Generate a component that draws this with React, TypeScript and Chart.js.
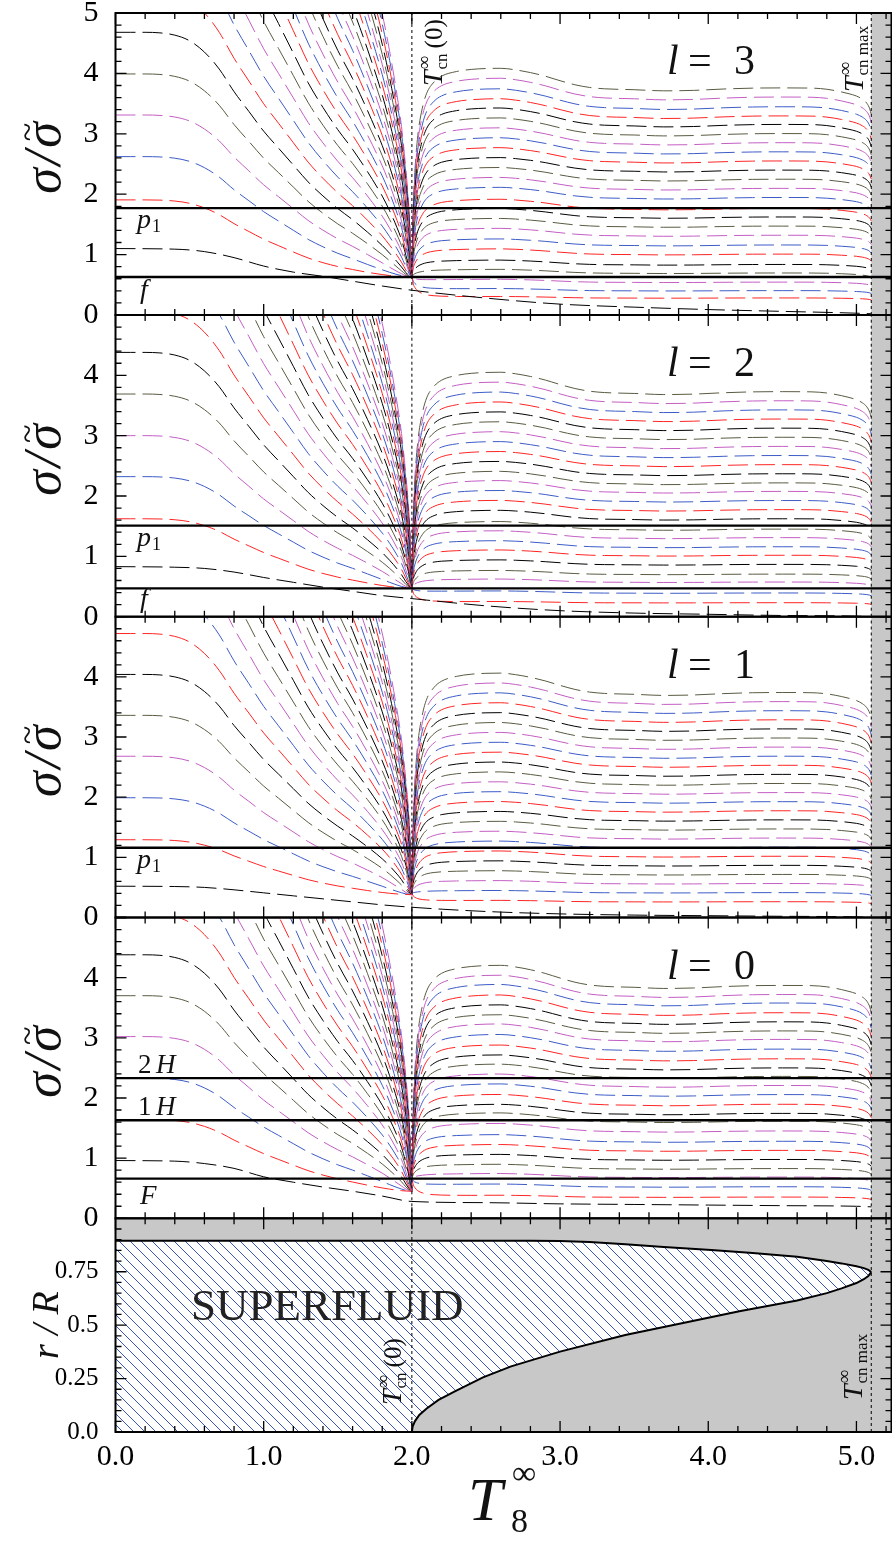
import React, { useEffect, useRef } from 'react';
import { Chart, registerables } from 'chart.js';

Chart.register(...registerables);

const SERIF = '"Liberation Serif", "Times New Roman", serif';
const GRAY = '#c8c8c8';
const COLORS = ['#000000', '#ff2424', '#3c5cc6', '#c35ec3', '#5a5a42'];

// ---- x axis ----
const X_MAX = 5.24;
const T_CN0 = 2.0;
const T_CNMAX = 5.1;

// ---- panel labels ----
const PANEL_ELL = ['3', '2', '1', '0'];

// ---- superfluid branch (T < Tcn(0)): sample temperatures and shape ----
const LEFT_T = [0, 0.1, 0.2, 0.3, 0.4, 0.5, 0.6, 0.7, 0.8, 0.9, 1.0, 1.1, 1.2, 1.3, 1.4, 1.5, 1.6, 1.7, 1.8, 1.85, 1.9, 1.93, 1.96, 1.98, 1.99, 2.0];
const LEFT_SHAPE = [1, 1, 1, 0.998, 0.99, 0.97, 0.93, 0.87, 0.79, 0.72, 0.65, 0.59, 0.53, 0.47, 0.42, 0.375, 0.335, 0.29, 0.24, 0.21, 0.175, 0.15, 0.115, 0.085, 0.06, 0];

// ---- normal branch (T > Tcn(0)) ----
const RIGHT_T = [2.0, 2.01, 2.02, 2.04, 2.07, 2.1, 2.15, 2.2, 2.3, 2.4, 2.5, 2.6, 2.7, 2.8, 2.9, 3.0, 3.1, 3.2, 3.3, 3.5, 3.7, 3.9, 4.1, 4.3, 4.5, 4.7, 4.8, 4.9, 4.95, 5.0, 5.04, 5.07, 5.09, 5.1];
const RIGHT_RISE = [0, 0.36, 0.52, 0.7, 0.83, 0.9, 0.95, 0.975, 0.993, 1, 1, 1, 1, 1, 1, 1, 1, 1, 1, 1, 1, 1, 1, 1, 1, 1, 1, 1, 1, 1, 1, 1, 1, 1];
const RIGHT_BUMP = [1.06, 1.06, 1.062, 1.065, 1.07, 1.075, 1.08, 1.083, 1.087, 1.09, 1.094, 1.095, 1.088, 1.076, 1.06, 1.04, 1.022, 1.01, 1.004, 1.0, 0.995, 0.997, 1.003, 1.007, 1.008, 1.007, 1.002, 0.99, 0.982, 0.972, 0.958, 0.94, 0.915, 0.89];

// ---- lowest (f-like) mode, all temperatures ----
const FMODE_T = [0, 0.4, 0.6, 0.8, 1.0, 1.2, 1.4, 1.6, 1.8, 2.0, 2.5, 3.0, 3.5, 4.0, 4.5, 5.0, 5.1];

// l = 3
const LEFT_L3 = [1.90, 2.62, 3.31, 3.99, 4.68, 5.38, 6.08, 6.78, 7.48, 8.18, 8.88, 9.58, 10.28, 10.98, 11.68, 12.38, 13.08, 13.78, 14.48, 15.18, 15.88, 16.58, 17.28, 17.98, 18.68, 19.38, 20.08, 20.78];
const RIGHT_L3 = [0.28, 0.40, 0.54, 0.69, 0.83, 1.00, 1.15, 1.31, 1.46, 1.61, 1.75, 1.93, 2.08, 2.23, 2.38, 2.53, 2.68, 2.83, 2.98, 3.13, 3.27, 3.42, 3.58, 3.73];
const FMODE_L3 = [1.10, 1.09, 1.05, 0.95, 0.81, 0.71, 0.64, 0.56, 0.48, 0.41, 0.28, 0.18, 0.13, 0.09, 0.06, 0.03, 0.02];
const MODES_L3 = [1.77, 0.63];
// l = 2
const LEFT_L2 = [1.62, 2.32, 3.00, 3.69, 4.38, 5.07, 5.76, 6.45, 7.14, 7.83, 8.52, 9.21, 9.90, 10.59, 11.28, 11.97, 12.66, 13.35, 14.04, 14.73, 15.42, 16.11, 16.80, 17.49, 18.18, 18.87, 19.56, 20.25];
const RIGHT_L2 = [0.23, 0.39, 0.57, 0.70, 0.86, 1.01, 1.15, 1.30, 1.44, 1.61, 1.76, 1.91, 2.06, 2.20, 2.35, 2.50, 2.65, 2.80, 2.95, 3.10, 3.25, 3.40, 3.55, 3.70];
const FMODE_L2 = [0.83, 0.82, 0.80, 0.74, 0.65, 0.57, 0.49, 0.42, 0.35, 0.30, 0.18, 0.10, 0.06, 0.04, 0.02, 0.01, 0.00];
const MODES_L2 = [1.51, 0.47];
// l = 1
const LEFT_L1 = [1.29, 1.99, 2.68, 3.36, 4.04, 4.72, 5.40, 6.08, 6.76, 7.44, 8.12, 8.80, 9.48, 10.16, 10.84, 11.52, 12.20, 12.88, 13.56, 14.24, 14.92, 15.60, 16.28, 16.96, 17.64, 18.32, 19.00, 19.68];
const RIGHT_L1 = [0.26, 0.41, 0.56, 0.71, 0.86, 1.01, 1.16, 1.31, 1.46, 1.61, 1.76, 1.91, 2.06, 2.21, 2.36, 2.51, 2.66, 2.81, 2.96, 3.11, 3.26, 3.41, 3.56, 3.71];
const FMODE_L1 = [0.52, 0.515, 0.50, 0.46, 0.41, 0.36, 0.31, 0.26, 0.21, 0.17, 0.10, 0.06, 0.04, 0.03, 0.02, 0.01, 0.00];
const MODES_L1 = [1.16];
// l = 0
const LEFT_L0 = [1.64, 2.33, 3.02, 3.70, 4.38, 5.07, 5.76, 6.45, 7.14, 7.83, 8.52, 9.21, 9.90, 10.59, 11.28, 11.97, 12.66, 13.35, 14.04, 14.73, 15.42, 16.11, 16.80, 17.49, 18.18, 18.87, 19.56, 20.25];
const RIGHT_L0 = [0.35, 0.52, 0.68, 0.82, 0.97, 1.12, 1.27, 1.44, 1.60, 1.73, 1.88, 2.04, 2.19, 2.34, 2.48, 2.63, 2.79, 2.95, 3.09, 3.24, 3.39, 3.55, 3.69, 3.84];
const FMODE_L0 = [0.96, 0.95, 0.91, 0.83, 0.69, 0.60, 0.52, 0.45, 0.37, 0.28, 0.26, 0.24, 0.23, 0.22, 0.21, 0.20, 0.19];
const MODES_L0 = [2.33, 1.63, 0.66];

// convergence values at Tcn(0) (left branch, right branch)
const CONV_LEFT = [0.63, 0.47, 0.38, 0.45];
const CONV_RIGHT = [0.63, 0.47, 0.40, 0.66];

// ---- superfluid region boundary (bottom panel) ----
const SF_UPPER_T = [0, 1.0, 2.0, 2.8, 3.0, 3.2, 3.44, 3.7, 4.02, 4.3, 4.6, 4.8, 4.9, 5.0, 5.05, 5.08, 5.1];
const SF_UPPER_R = [0.895, 0.895, 0.895, 0.895, 0.894, 0.889, 0.878, 0.866, 0.852, 0.838, 0.82, 0.80, 0.789, 0.776, 0.767, 0.759, 0.748];
const SF_LOWER_T = [2.0, 2.005, 2.02, 2.05, 2.1, 2.18, 2.29, 2.48, 2.67, 3.0, 3.44, 3.83, 4.21, 4.6, 4.8, 4.9, 5.0, 5.05, 5.08, 5.1];
const SF_LOWER_R = [0, 0.025, 0.05, 0.08, 0.11, 0.15, 0.19, 0.256, 0.307, 0.376, 0.454, 0.51, 0.565, 0.615, 0.65, 0.672, 0.697, 0.715, 0.73, 0.748];

const SIGMA_AXES = ['y1', 'y2', 'y3', 'y4'];
const PANEL_DATA = [
  { left: LEFT_L3, right: RIGHT_L3, fmode: FMODE_L3, modes: MODES_L3 },
  { left: LEFT_L2, right: RIGHT_L2, fmode: FMODE_L2, modes: MODES_L2 },
  { left: LEFT_L1, right: RIGHT_L1, fmode: FMODE_L1, modes: MODES_L1 },
  { left: LEFT_L0, right: RIGHT_L0, fmode: FMODE_L0, modes: MODES_L0 },
];

function dashed(data: any[], color: string, axis: string, phase: number) {
  return {
    type: 'line', data, yAxisID: axis, xAxisID: 'x', borderColor: color, borderWidth: 1,
    borderDash: [20, 7], borderDashOffset: phase, pointRadius: 0, fill: false, cubicInterpolationMode: 'monotone', order: 3,
  };
}

function buildDatasets() {
  const ds: any[] = [];
  PANEL_DATA.forEach((p, pi) => {
    const axis = SIGMA_AXES[pi];
    const cl = CONV_LEFT[pi];
    const cr = CONV_RIGHT[pi];
    ds.push(dashed(FMODE_T.map((t, i) => ({ x: t, y: p.fmode[i] })), COLORS[0], axis, 0));
    p.left.forEach((L, k) => {
      const data = LEFT_T.map((t, i) => ({ x: t, y: Math.pow(Math.pow(cl, 4) + Math.pow(L * LEFT_SHAPE[i], 4), 0.25) }));
      ds.push(dashed(data, COLORS[(k + 1) % 5], axis, 0));
    });
    p.right.forEach((R, k) => {
      const data = RIGHT_T.map((t, i) => ({ x: t, y: cr + (R * RIGHT_BUMP[i] - cr) * RIGHT_RISE[i] }));
      ds.push(dashed(data, COLORS[(k + 1) % 5], axis, (k * 11) % 27));
    });
    p.modes.forEach((v) => {
      ds.push({ type: 'line', data: [{ x: 0, y: v }, { x: X_MAX, y: v }], yAxisID: axis, xAxisID: 'x', borderColor: '#000', borderWidth: 2.4, pointRadius: 0, fill: false, order: 0 });
    });
    [T_CN0, T_CNMAX].forEach((t) => {
      ds.push({ type: 'line', data: [{ x: t, y: 0 }, { x: t, y: 5 }], yAxisID: axis, xAxisID: 'x', borderColor: '#000', borderWidth: 1, borderDash: [3, 3], pointRadius: 0, fill: false, order: 1 });
    });
  });
  ds.push({ type: 'line', data: SF_UPPER_T.map((t, i) => ({ x: t, y: SF_UPPER_R[i] })), yAxisID: 'y5', xAxisID: 'x', borderColor: '#000', borderWidth: 2, pointRadius: 0, fill: false, order: 0 });
  ds.push({ type: 'line', data: SF_LOWER_T.map((t, i) => ({ x: t, y: SF_LOWER_R[i] })), yAxisID: 'y5', xAxisID: 'x', borderColor: '#000', borderWidth: 2, pointRadius: 0, fill: false, order: 0 });
  [T_CN0, T_CNMAX].forEach((t) => {
    ds.push({ type: 'line', data: [{ x: t, y: 0 }, { x: t, y: 1 }], yAxisID: 'y5', xAxisID: 'x', borderColor: '#000', borderWidth: 1, borderDash: [3, 3], pointRadius: 0, fill: false, order: 1 });
  });
  return ds;
}

function hatch(ctx: CanvasRenderingContext2D) {
  const s = 11;
  const pc = document.createElement('canvas');
  pc.width = s; pc.height = s;
  const g = pc.getContext('2d')!;
  g.fillStyle = '#ffffff';
  g.fillRect(0, 0, s, s);
  g.strokeStyle = '#3a56b8';
  g.lineWidth = 1;
  g.beginPath();
  for (const o of [-s, 0, s]) { g.moveTo(o, 0); g.lineTo(o + s, s); }
  g.stroke();
  return ctx.createPattern(pc, 'repeat')!;
}

function drawTcn(ctx: CanvasRenderingContext2D, x: number, y: number, sub: string, tail: string) {
  ctx.save();
  ctx.translate(x, y);
  ctx.rotate(-Math.PI / 2);
  ctx.textAlign = 'left';
  ctx.textBaseline = 'alphabetic';
  ctx.fillStyle = '#111';
  ctx.font = `italic 28px ${SERIF}`;
  ctx.fillText('T', 0, 0);
  const wT = ctx.measureText('T').width;
  ctx.font = `19px ${SERIF}`;
  ctx.fillText('∞', wT + 1, -12);
  const wI = ctx.measureText('∞').width;
  ctx.font = `17px ${SERIF}`;
  ctx.fillText(sub, wT + 1, 5);
  const wS = ctx.measureText(sub).width;
  if (tail) {
    ctx.font = `25px ${SERIF}`;
    ctx.fillText(tail, wT + 1 + Math.max(wI, wS) + 5, 0);
  }
  ctx.restore();
}

function sigmaTitle(ctx: CanvasRenderingContext2D, x: number, cy: number) {
  ctx.save();
  ctx.translate(x, cy);
  ctx.rotate(-Math.PI / 2);
  ctx.fillStyle = '#111';
  ctx.textBaseline = 'alphabetic';
  ctx.font = `italic 52px ${SERIF}`;
  const ws = ctx.measureText('σ').width;
  const wsl = ctx.measureText('/').width;
  const gap = 3;
  const total = ws * 2 + wsl + gap * 2;
  let px = -total / 2;
  ctx.textAlign = 'left';
  ctx.fillText('σ', px, 0);
  px += ws + gap;
  ctx.fillText('/', px, 0);
  px += wsl + gap;
  ctx.fillText('σ', px, 0);
  ctx.font = `34px ${SERIF}`;
  ctx.textAlign = 'center';
  ctx.fillText('~', px + ws / 2 + 3, -22);
  ctx.restore();
}

const panelPlugin = {
  id: 'panels',
  beforeDatasetsDraw(chart: any) {
    const { ctx, chartArea } = chart;
    const xs = chart.scales.x;
    const xg = xs.getPixelForValue(T_CNMAX);
    ctx.save();
    ctx.fillStyle = GRAY;
    for (const id of SIGMA_AXES) {
      const ys = chart.scales[id];
      ctx.fillRect(xg, ys.top, chartArea.right - xg, ys.bottom - ys.top);
    }
    const yr = chart.scales.y5;
    ctx.fillRect(chartArea.left, yr.top, chartArea.right - chartArea.left, yr.bottom - yr.top);
    ctx.beginPath();
    ctx.moveTo(xs.getPixelForValue(0), yr.getPixelForValue(0));
    SF_UPPER_T.forEach((t, i) => ctx.lineTo(xs.getPixelForValue(t), yr.getPixelForValue(SF_UPPER_R[i])));
    for (let i = SF_LOWER_T.length - 1; i >= 0; i--) ctx.lineTo(xs.getPixelForValue(SF_LOWER_T[i]), yr.getPixelForValue(SF_LOWER_R[i]));
    ctx.closePath();
    ctx.fillStyle = hatch(ctx);
    ctx.fill();
    ctx.restore();
  },
  beforeDatasetDraw(chart: any, args: any) {
    const { ctx, chartArea } = chart;
    const ys = args.meta.yScale;
    ctx.save();
    ctx.beginPath();
    ctx.rect(chartArea.left, ys.top, chartArea.right - chartArea.left, ys.bottom - ys.top);
    ctx.clip();
  },
  afterDatasetDraw(chart: any) {
    chart.ctx.restore();
  },
  afterDatasetsDraw(chart: any) {
    const { ctx, chartArea } = chart;
    const xs = chart.scales.x;
    const L = chartArea.left;
    const R = chartArea.right - 0.5;
    ctx.save();
    ctx.strokeStyle = '#000';
    for (const id of [...SIGMA_AXES, 'y5']) {
      const ys = chart.scales[id];
      const top = ys.top, bot = ys.bottom;
      ctx.lineWidth = 1.3;
      ctx.beginPath();
      for (let k = 0; k <= 26; k++) {
        const t = k * 0.2;
        if (t > X_MAX) break;
        const px = xs.getPixelForValue(t);
        const len = k % 5 === 0 ? 11 : 6;
        ctx.moveTo(px, top); ctx.lineTo(px, top + len);
        ctx.moveTo(px, bot); ctx.lineTo(px, bot - len);
      }
      const step = id === 'y5' ? 0.05 : 0.2;
      const n = Math.round(ys.max / step);
      for (let k = 0; k <= n; k++) {
        const py = ys.getPixelForValue(k * step);
        const len = k % 5 === 0 ? 11 : 6;
        ctx.moveTo(L, py); ctx.lineTo(L + len, py);
        ctx.moveTo(R, py); ctx.lineTo(R - len, py);
      }
      ctx.stroke();
      ctx.lineWidth = 2;
      ctx.strokeRect(L, top, R - L, bot - top);
    }
    ctx.restore();
  },
  afterDraw(chart: any) {
    const { ctx } = chart;
    ctx.save();
    ctx.fillStyle = '#111';
    ctx.textAlign = 'left';
    ctx.textBaseline = 'alphabetic';
    SIGMA_AXES.forEach((id, i) => {
      const ys = chart.scales[id];
      const base = ys.top + 61;
      ctx.font = `italic 42px ${SERIF}`;
      ctx.fillText('l', 667, base);
      ctx.font = `42px ${SERIF}`;
      ctx.fillText('=', 688, base);
      ctx.fillText(PANEL_ELL[i], 734, base);
      sigmaTitle(ctx, 60, (ys.top + ys.bottom) / 2 - 6);
    });
    const y1 = chart.scales.y1, y2 = chart.scales.y2, y3 = chart.scales.y3, y4 = chart.scales.y4;
    const p1 = (ys: any, v: number) => {
      const b = ys.getPixelForValue(v) + 20;
      ctx.font = `italic 28px ${SERIF}`;
      ctx.fillText('p', 137, b);
      ctx.font = `18px ${SERIF}`;
      ctx.fillText('1', 152, b + 4);
    };
    const it = (ys: any, v: number, txt: string, dy: number) => {
      ctx.font = `italic 28px ${SERIF}`;
      ctx.fillText(txt, 140, ys.getPixelForValue(v) + dy);
    };
    p1(y1, MODES_L3[0]); it(y1, MODES_L3[1], 'f', 21);
    p1(y2, MODES_L2[0]); it(y2, MODES_L2[1], 'f', 19);
    p1(y3, MODES_L1[0]);
    const hLab = (v: number, n: string) => {
      const b = y4.getPixelForValue(v) - 5;
      ctx.font = `27px ${SERIF}`;
      ctx.fillText(n, 138, b);
      ctx.font = `italic 27px ${SERIF}`;
      ctx.fillText('H', 156, b);
    };
    hLab(MODES_L0[0], '2');
    hLab(MODES_L0[1], '1');
    ctx.font = `italic 27px ${SERIF}`;
    ctx.fillText('F', 140, y4.getPixelForValue(MODES_L0[2]) + 25);

    drawTcn(ctx, 442, 86, 'cn', '(0)');
    drawTcn(ctx, 863, 92, 'cn max', '');
    drawTcn(ctx, 401, 1405, 'cn', '(0)');
    drawTcn(ctx, 862, 1400, 'cn max', '');

    ctx.font = `45px ${SERIF}`;
    ctx.fillStyle = '#222';
    ctx.fillText('SUPERFLUID', 191, 1320);

    const y5 = chart.scales.y5;
    ctx.save();
    ctx.translate(58, (y5.top + y5.bottom) / 2);
    ctx.rotate(-Math.PI / 2);
    ctx.textAlign = 'center';
    ctx.font = `italic 38px ${SERIF}`;
    ctx.fillStyle = '#111';
    ctx.fillText('r / R', 0, 0);
    ctx.restore();

    ctx.fillStyle = '#111';
    ctx.font = `italic 62px ${SERIF}`;
    ctx.fillText('T', 468, 1520);
    ctx.font = `34px ${SERIF}`;
    ctx.fillText('∞', 512, 1484);
    ctx.font = `34px ${SERIF}`;
    ctx.fillText('8', 511, 1532);
    ctx.restore();
  },
};

function yAxis(weight: number, max: number, step: number, fmt: (v: number) => string, size: number) {
  return {
    type: 'linear', position: 'left', stack: 'v', stackWeight: weight, min: 0, max,
    grid: { display: false, drawTicks: false }, border: { display: false },
    ticks: { stepSize: step, autoSkip: false, padding: 17, color: '#000', font: { family: SERIF, size }, callback: (v: any) => fmt(Number(v)) },
    afterFit: (s: any) => { s.width = 115.5; s.paddingTop = 0; s.paddingBottom = 0; },
  };
}

export default function App() {
  const ref = useRef<HTMLCanvasElement | null>(null);
  useEffect(() => {
    document.body.style.margin = '0';
    const canvas = ref.current!;
    const sig = (v: number) => (v >= 4.99 ? '' : String(Math.round(v)));
    const chart = new Chart(canvas, {
      type: 'line',
      data: { datasets: buildDatasets() },
      options: {
        animation: false,
        responsive: false,
        devicePixelRatio: 1,
        events: [],
        layout: { padding: { top: 13, left: 0, right: 0, bottom: 0 } },
        plugins: { legend: { display: false }, tooltip: { enabled: false } },
        scales: {
          x: {
            type: 'linear', position: 'bottom', min: 0, max: X_MAX,
            grid: { display: false, drawTicks: false }, border: { display: false },
            ticks: { stepSize: 1, includeBounds: false, autoSkip: false, maxRotation: 0, padding: 7, color: '#000', font: { family: SERIF, size: 30 }, callback: (v: any) => Number(v).toFixed(1) },
            afterFit: (s: any) => { s.height = 109; s.paddingLeft = 0; s.paddingRight = 0; },
          },
          y5: yAxis(213.7, 1, 0.25, (v) => (v === 0 ? '0.0' : v >= 0.99 ? '' : String(v)), 25),
          y4: yAxis(300.8, 5, 1, sig, 30),
          y3: yAxis(300.8, 5, 1, sig, 30),
          y2: yAxis(301.7, 5, 1, sig, 30),
          y1: yAxis(302, 5, 1, (v) => String(Math.round(v)), 30),
        },
      } as any,
      plugins: [panelPlugin as any],
    });
    return () => chart.destroy();
  }, []);
  return (
    <div style={{ width: 892, height: 1541 }}>
      <canvas ref={ref} width={892} height={1541} style={{ display: 'block', width: 892, height: 1541 }} />
    </div>
  );
}
